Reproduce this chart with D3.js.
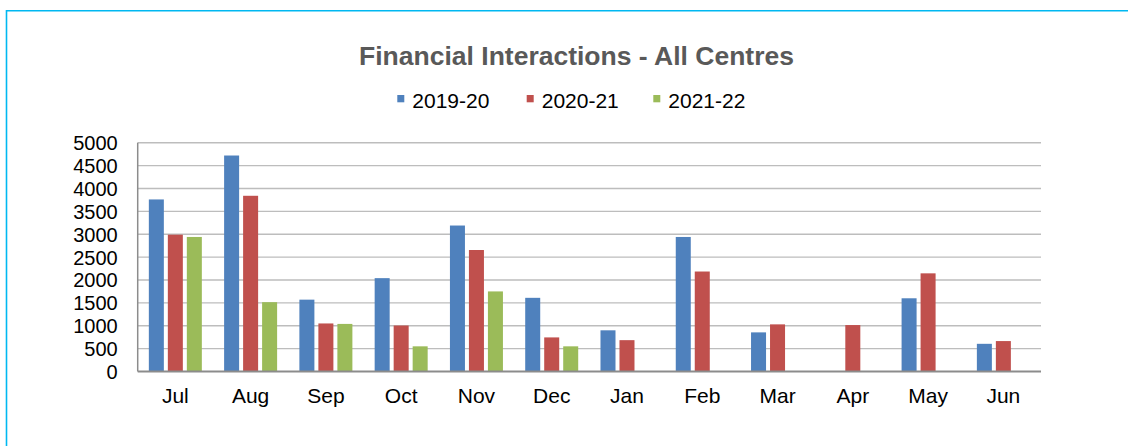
<!DOCTYPE html>
<html>
<head>
<meta charset="utf-8">
<script src="https://cdn.jsdelivr.net/npm/d3@7"></script>
<style>
  html, body { margin: 0; padding: 0; background: #fff; }
  svg { display: block; }
  text { font-family: "Liberation Sans", Arial, sans-serif; }
</style>
</head>
<body>
<svg id="chart" width="1128" height="446"></svg>
<script>
const months = ["Jul","Aug","Sep","Oct","Nov","Dec","Jan","Feb","Mar","Apr","May","Jun"];
const seriesNames = ["2019-20","2020-21","2021-22"];
const values2019 = [3760, 4720, 1570, 2040, 3190, 1610, 900, 2940, 855, null, 1600, 605];
const values2020 = [2990, 3840, 1050, 1005, 2655, 745, 685, 2185, 1030, 1015, 2145, 665];
const values2021 = [2940, 1515, 1040, 550, 1750, 550, null, null, null, null, null, null];
const yTicks = [0, 500, 1000, 1500, 2000, 2500, 3000, 3500, 4000, 4500, 5000];
const colors = ["#4F81BD", "#C0504D", "#9BBB59"];
const title = "Financial Interactions - All Centres";

const seriesValues = [values2019, values2020, values2021];
const svg = d3.select("#chart");

// frame border (cyan)
svg.append("path")
  .attr("d", "M6.5,446 L6.5,10.7 L1128,10.7")
  .attr("fill", "none").attr("stroke", "#00B8F1").attr("stroke-width", 1.6);

const plot = { left: 137.7, right: 1041, top: 142.7, bottom: 371.5 };

const x0 = d3.scaleBand().domain(months).range([plot.left, plot.right]).paddingInner(0).paddingOuter(0);
const groupW = 53;
const x1 = d3.scaleBand().domain(seriesNames)
  .range([(x0.bandwidth() - groupW) / 2, (x0.bandwidth() + groupW) / 2])
  .paddingInner(0.21).paddingOuter(0);
const y = d3.scaleLinear().domain([0, 5000]).range([plot.bottom, plot.top]);

// gridlines
svg.append("g")
  .selectAll("line").data(yTicks.filter(d => d > 0)).join("line")
  .attr("x1", plot.left).attr("x2", plot.right)
  .attr("y1", d => y(d)).attr("y2", d => y(d))
  .attr("stroke", "#BDBDBD").attr("stroke-width", 1.4);

// bars
const rows = months.map((m, i) => ({ m, vals: seriesNames.map((s, j) => ({ s, j, v: seriesValues[j][i] })) }));
const groups = svg.append("g").selectAll("g").data(rows).join("g")
  .attr("transform", d => `translate(${x0(d.m)},0)`);
groups.selectAll("rect").data(d => d.vals.filter(v => v.v != null)).join("rect")
  .attr("x", d => x1(d.s))
  .attr("width", x1.bandwidth())
  .attr("y", d => y(d.v))
  .attr("height", d => y(0) - y(d.v))
  .attr("fill", d => colors[d.j]);

// axes lines
svg.append("line").attr("x1", plot.left).attr("x2", plot.left)
  .attr("y1", plot.top).attr("y2", plot.bottom)
  .attr("stroke", "#8C8C8C").attr("stroke-width", 1.5);
svg.append("line").attr("x1", plot.left).attr("x2", plot.right)
  .attr("y1", plot.bottom).attr("y2", plot.bottom)
  .attr("stroke", "#8C8C8C").attr("stroke-width", 1.8);

// y axis labels
const yAxis = d3.axisLeft(y).tickValues(yTicks).tickSize(0).tickPadding(20).tickFormat(d3.format("d"));
const gy = svg.append("g").attr("transform", `translate(${plot.left},0)`).call(yAxis);
gy.select(".domain").remove();
gy.selectAll("text").attr("font-size", 20).attr("fill", "#000")
  .attr("font-family", "'Liberation Sans', Arial, sans-serif").attr("dy", "0.35em");

// x axis labels
const xAxis = d3.axisBottom(x0).tickSize(0).tickPadding(17);
const gx = svg.append("g").attr("transform", `translate(0,${plot.bottom})`).call(xAxis);
gx.select(".domain").remove();
gx.selectAll("text").attr("font-size", 21).attr("fill", "#000")
  .attr("font-family", "'Liberation Sans', Arial, sans-serif");

// title
svg.append("text").attr("x", 576.5).attr("y", 65).attr("text-anchor", "middle")
  .attr("font-size", 26.5).attr("font-weight", "bold").attr("fill", "#595959")
  .text(title);

// legend
const legendX = [397.3, 526.7, 653.3];
const lg = svg.append("g").selectAll("g").data(seriesNames).join("g")
  .attr("transform", (d, i) => `translate(${legendX[i]},0)`);
lg.append("rect").attr("x", 0).attr("y", 95).attr("width", 7).attr("height", 7.3)
  .attr("fill", (d, i) => colors[i]);
lg.append("text").attr("x", 15).attr("y", 108.3).attr("font-size", 21).attr("fill", "#000")
  .text(d => d);
</script>
</body>
</html>
